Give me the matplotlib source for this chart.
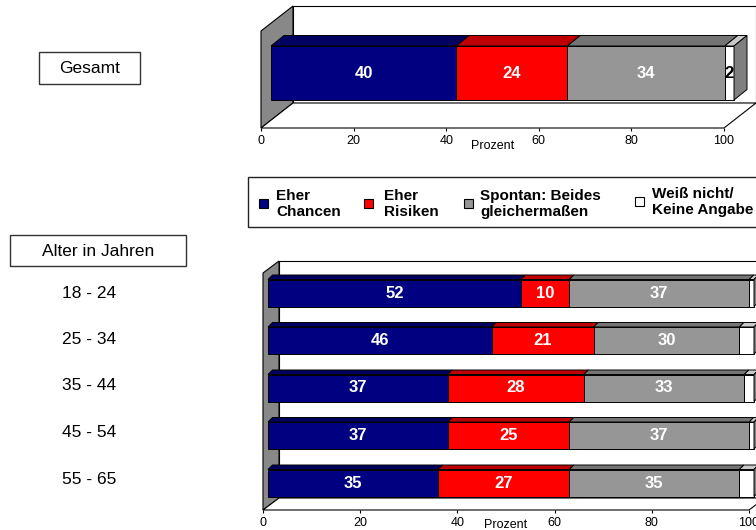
import matplotlib
matplotlib.use("Agg")
import matplotlib.pyplot as plt
from matplotlib.patches import Polygon, Rectangle

plt.rcParams['font.family'] = ['Liberation Sans', 'DejaVu Sans']

W, H = 756, 530

# ---- data -------------------------------------------------------------
series_labels = ["Eher\nChancen", "Eher\nRisiken",
                 "Spontan: Beides\ngleichermaßen", "Weiß nicht/\nKeine Angabe"]
gesamt = [40, 24, 34, 2]

age_groups = ["18 - 24", "25 - 34", "35 - 44", "45 - 54", "55 - 65"]
eher_chancen = [52, 46, 37, 37, 35]
eher_risiken = [10, 21, 28, 25, 27]
beides = [37, 30, 33, 37, 35]
weiss_nicht = [1, 3, 2, 1, 3]

x_ticks = [0, 20, 40, 60, 80, 100]

# ---- styling ----------------------------------------------------------
front_colors = ["#000080", "#FF0000", "#969696", "#FFFFFF"]
top_colors = ["#000060", "#BF0000", "#747474", "#C8C8C8"]
side_color = "#7F7F7F"
wall_color = "#888888"
edge = "#000000"

fig = plt.figure(figsize=(W / 100, H / 100), dpi=100)

# overlay in pixel units for boxes, legend and row captions
ov = fig.add_axes([0, 0, 1, 1], zorder=0)
ov.set_xlim(0, W)
ov.set_ylim(H, 0)
ov.axis("off")


def panel(x0, x1, floor_y, wall_h, wall_d, centers0, step, bar_h,
          bar_off, bar_d, rows, label_min, label_colors):
    """3-D style stacked horizontal bar panel; pixel geometry -> data units."""
    top = floor_y - wall_h - wall_d[1]
    ax = fig.add_axes([x0 / W, 1 - floor_y / H, (x1 - x0) / W, (floor_y - top) / H],
                      zorder=2)
    ax.patch.set_visible(False)
    ax.set_xlim(0, 100)
    ybot = (floor_y - centers0) / step
    ytop = (top - centers0) / step
    ax.set_ylim(ybot, ytop)

    sx = 100.0 / (x1 - x0)
    sy = 1.0 / step

    def dx(p):
        return p * sx

    def dy(p):  # upward pixel offset -> data offset
        return -p * sy

    wdx, wdy = dx(wall_d[0]), dy(wall_d[1])
    wh = dy(wall_h)
    kw = dict(clip_on=False, lw=0.8, ec=edge)
    # back wall, left wall, floor
    ax.add_patch(Polygon([(wdx, ybot + wdy), (100 + wdx, ybot + wdy),
                          (100 + wdx, ybot + wdy + wh), (wdx, ybot + wdy + wh)],
                         fc="white", zorder=1, **kw))
    ax.add_patch(Polygon([(0, ybot), (0, ybot + wh), (wdx, ybot + wh + wdy),
                          (wdx, ybot + wdy)], fc=wall_color, zorder=1, **kw))
    ax.add_patch(Polygon([(0, ybot), (100, ybot), (100 + wdx, ybot + wdy),
                          (wdx, ybot + wdy)], fc="white", zorder=1, **kw))

    ox = dx(bar_off)
    bdx, bdy = dx(bar_d[0]), dy(bar_d[1])
    h = bar_h / step
    for i, vals in enumerate(rows):
        yt, yb = i - h / 2, i + h / 2
        left = 0.0
        for k, v in enumerate(vals):
            xa, xb = ox + left, ox + left + v
            ax.add_patch(Rectangle((xa, yt), v, h, fc=front_colors[k],
                                   ec=edge, lw=0.7, zorder=3, clip_on=False))
            ax.add_patch(Polygon([(xa, yt), (xb, yt), (xb + bdx, yt + bdy),
                                  (xa + bdx, yt + bdy)], fc=top_colors[k],
                                 ec=edge, lw=0.7, zorder=3, clip_on=False))
            if v >= label_min:
                ax.text((xa + xb) / 2, i, str(v), ha="center", va="center",
                        fontsize=12, fontweight="bold", color=label_colors[k],
                        zorder=5, clip_on=False)
            left += v
        xe = ox + left
        ax.add_patch(Polygon([(xe, yt), (xe + bdx, yt + bdy), (xe + bdx, yb + bdy),
                              (xe, yb)], fc=side_color, ec=edge, lw=0.7,
                             zorder=3, clip_on=False))

    for s in ax.spines.values():
        s.set_visible(False)
    ax.set_yticks([])
    ax.set_xticks(x_ticks)
    ax.set_xticklabels([str(t) for t in x_ticks])
    ax.tick_params(axis="x", direction="out", length=2.5, width=0.8,
                   pad=2.5, labelsize=9, colors="black")
    return ax


# overall panel
ax_top = panel(261, 724, 128, 97, (32, 25), 73, 60, 54, 10, (13, 10.5),
               [gesamt], 0, ["white", "white", "white", "black"])
ax_top.annotate("Prozent", xy=(50, 0), xycoords=("data", "axes fraction"),
                xytext=(0, -18), textcoords="offset pixels",
                ha="center", va="center", fontsize=9)

# age panel
age_rows = [list(r) for r in zip(eher_chancen, eher_risiken, beides, weiss_nicht)]
ax_age = panel(263, 749, 510, 237, (16, 12), 293, 47.5, 27, 5, (4.5, 4.5),
               age_rows, 5, ["white", "white", "white", "black"])
ax_age.annotate("Prozent", xy=(50, 0), xycoords=("data", "axes fraction"),
                xytext=(0, -14.5), textcoords="offset pixels",
                ha="center", va="center", fontsize=9)

# caption boxes
ov.add_patch(Rectangle((39, 52), 101, 32, fc="white", ec="#333333", lw=1))
ov.text(89.5, 68.5, "Gesamt", ha="center", va="center", fontsize=12.5)
ov.add_patch(Rectangle((10, 235), 176, 31, fc="white", ec="#333333", lw=1))
ov.text(98, 251, "Alter in Jahren", ha="center", va="center", fontsize=12.5)
for i, g in enumerate(age_groups):
    ov.text(89, 293 + i * 46.5, g, ha="center", va="center", fontsize=12.5)

# legend
ov.add_patch(Rectangle((248, 177), 530, 50, fc="white", ec="#222222", lw=1,
                       clip_on=True))
marker_x = [263, 368, 468, 639]
marker_y = [203.5, 203.5, 203, 201]
text_x = [276, 384, 480, 652]
text_y = [204, 204, 204, 202]
for k, lab in enumerate(series_labels):
    ov.add_patch(Rectangle((marker_x[k] - 4.5, marker_y[k] - 4.5), 9, 9,
                           fc=front_colors[k], ec="#000000", lw=0.8))
    ov.text(text_x[k], text_y[k], lab, ha="left", va="center", fontsize=11,
            fontweight="bold", linespacing=1.15)

fig.savefig("out.png", dpi=100)
